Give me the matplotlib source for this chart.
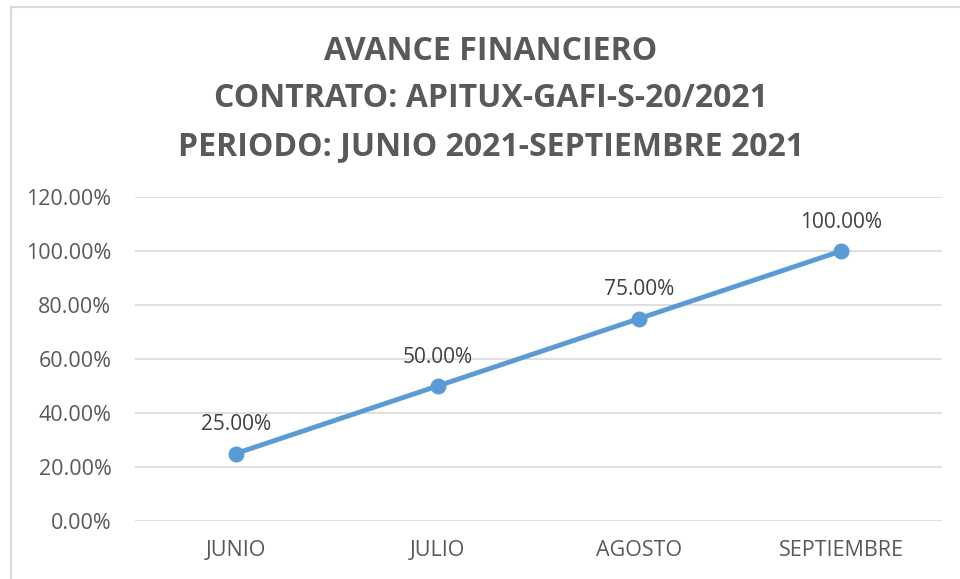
import matplotlib
matplotlib.use('Agg')
import matplotlib.pyplot as plt
from matplotlib.patches import Rectangle
from matplotlib.ticker import FuncFormatter

meses = ['JUNIO', 'JULIO', 'AGOSTO', 'SEPTIEMBRE']
avance = [25.0, 50.0, 75.0, 100.0]
y_ticks = [0, 20, 40, 60, 80, 100, 120]
titulo = 'AVANCE FINANCIERO\nCONTRATO: APITUX-GAFI-S-20/2021\nPERIODO: JUNIO 2021-SEPTIEMBRE 2021'

plt.rcParams['font.family'] = ['Open Sans', 'DejaVu Sans']

fig = plt.figure(figsize=(9.6, 5.79), dpi=100)
# chart frame (left/top edges visible, rest cropped)
fig.patches.append(Rectangle((11 / 960, -0.05), 1.2, (579 - 7) / 579 + 0.05,
                             transform=fig.transFigure, fill=False,
                             edgecolor='#d9d9d9', linewidth=1.5))

ax = fig.add_axes([135 / 960, (579 - 521) / 579, (942 - 135) / 960, (521 - 197) / 579])
x = range(len(meses))
ax.plot(x, avance, color='#5b9bd5', linewidth=3.5, marker='o', markersize=10.5,
        solid_capstyle='round', zorder=3)
for xi, v in zip(x, avance):
    ax.annotate(f'{v:.2f}%', (xi, v), xytext=(0, 13), textcoords='offset points',
                ha='center', va='bottom', fontsize=15, color='#404040')

ax.set_xlim(-0.5, len(meses) - 0.5)
ax.set_ylim(0, 120)
ax.set_yticks(y_ticks)
ax.yaxis.set_major_formatter(FuncFormatter(lambda v, _: f'{v:.2f}%'))
ax.set_xticks(list(x))
ax.set_xticklabels(meses)
ax.grid(axis='y', color='#d9d9d9', linewidth=1.2)
ax.set_axisbelow(True)
for s in ax.spines.values():
    s.set_visible(False)
ax.tick_params(axis='both', length=0, labelsize=15.5, colors='#595959')
ax.tick_params(axis='y', pad=17)
ax.tick_params(axis='x', pad=14)

fig.text(491 / 960, 1 - 99 / 579, titulo, ha='center', va='center', fontsize=23,
         fontweight='bold', color='#595959', linespacing=1.58)

fig.savefig('out.png', dpi=100)
